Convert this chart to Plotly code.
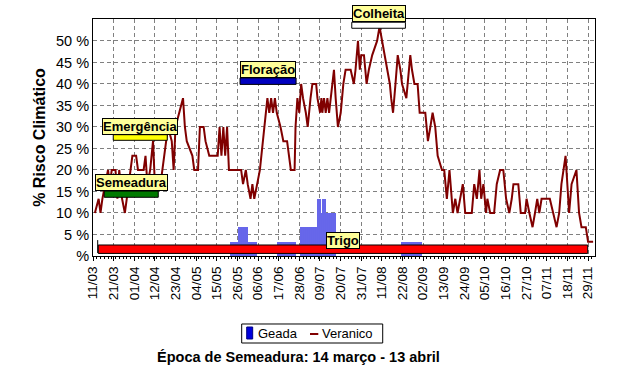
import plotly.graph_objects as go

# ---------------- data ----------------
tick_labels = ["11/03", "21/03", "01/04", "12/04", "23/04", "04/05", "15/05", "26/05",
               "06/06", "17/06", "28/06", "09/07", "20/07", "31/07", "11/08", "22/08",
               "02/09", "13/09", "24/09", "05/10", "16/10", "27/10", "07/11", "18/11", "29/11"]
tick_days = [11 * k for k in range(len(tick_labels))]

# Veranico (% risk) read at the vertices of the line, x = day index (11/03 = 0)
veranico_days = [1, 3, 4, 5, 8, 9, 10, 12, 13, 14, 15.5, 17, 18, 20, 21, 23, 24, 27, 28, 29,
                 30.5, 32, 33, 36, 38, 40, 42, 43, 44, 46, 48, 49, 50, 53, 54, 56, 57, 59, 60, 62,
                 66.5, 67.5, 68.5, 69.5, 70.5, 71.5, 72.5, 79, 80, 81.5, 82.5, 84, 85, 86, 87.5, 89,
                 93, 94, 95, 96, 97, 98, 100, 101.5, 103.5, 104.5, 105.5, 107.5, 108, 109, 110,
                 111, 112, 113.5, 114.5, 116, 117, 119, 119.7, 121.1, 121.8, 122.3, 123.2, 124.1,
                 125, 125.9, 126.7, 128.5, 129.4, 130.6, 132.1, 133.5, 134.7, 137.4, 139.1, 140,
                 141.3, 142.3, 143, 144.5, 145.9, 147.1, 148.9, 151.5, 152.8, 154.2, 155.4, 156.9,
                 158.3, 159, 160, 161.3, 162.5, 163.9, 164.8, 167.1, 168.4, 169.2, 170.1, 171.4,
                 173.1, 174.2, 177.2, 178.6, 179.9, 181.1, 182.5, 183.8, 186.1, 187.3, 188.7, 190.1,
                 191.9, 193.2, 194.4, 195.8, 197.2, 198.5, 202, 203.3, 204.7, 206.1, 207, 208.2,
                 209.6, 210.3, 211.8, 213.9, 215.3, 217.1, 218.8, 220.3, 222, 223.3, 224.2, 226.8,
                 228.1, 230.4, 231.2, 232.7, 234.4, 235.7, 236.9, 238, 239.2, 243.6, 245.4, 247.2,
                 248.6, 249.8, 252, 253, 253.9, 255.2, 257.8, 259.2, 260.5, 262.8, 264, 266.7]
veranico_vals = [10, 13.3, 10, 13.3, 20, 16.7, 20, 20, 13.3, 20, 13.3, 10, 13.3, 20, 23.3, 23.3, 20, 20, 23.3, 16.7,
                 20, 26.7, 16.7, 16.7, 23.3, 30, 26.7, 20, 30, 33.3, 36.7, 30, 26.7, 23.3, 20, 20, 30, 30, 26.7, 23.3,
                 23.3, 30, 23.3, 30, 23.3, 30, 20, 20, 16.7, 20, 16.7, 13.3, 16.7, 13.3, 16.7, 20,
                 36.7, 33.3, 36.7, 33.3, 36.7, 33.3, 30, 26.7, 26.7, 23.3, 20, 20, 30, 36.7, 33.3,
                 40, 36.7, 33.3, 30, 36.7, 40, 40, 36.7, 33.3, 36.7, 33.3, 36.7, 33.3,
                 36.7, 33.3, 36.7, 43.3, 36.7, 30, 33.3, 40, 43.3, 43.3, 40, 43.3,
                 50, 43.3, 46.7, 46.7, 40, 43.3, 46.7, 50, 53.3, 50, 46.7, 43.3,
                 40, 36.7, 33.3, 40, 46.7, 43.3, 40, 36.7, 43.3, 46.7, 43.3, 40,
                 40, 33.3, 33.3, 26.7, 30, 33.3, 30, 23.3, 20, 20, 13.3, 20,
                 10, 13.3, 10, 13.3, 16.7, 10, 10, 16.7, 13.3, 20, 13.3, 16.7,
                 10, 13.3, 10, 10, 16.7, 20, 20, 13.3, 10, 13.3, 16.7, 16.7,
                 10, 10, 13.3, 10, 6.7, 10, 13.3, 10, 13.3, 13.3, 10, 6.7,
                 10, 16.7, 23.3, 16.7, 10, 16.7, 20, 10, 6.7, 6.7, 3.3, 3.3]

# Geada (% risk) per day
geada_days = [74, 75, 76, 77, 78, 79, 80, 81, 82, 83, 84, 85, 86, 87,
              99, 100, 101, 102, 103, 104, 105, 106, 107, 108,
              111, 112, 113, 114, 115, 116, 117, 118, 119, 120, 121, 122, 123, 124,
              125, 126, 127, 128, 129,
              165, 166, 167, 168, 169, 170, 171, 172, 173, 174, 175]
geada_vals = [3.3, 3.3, 3.3, 3.3, 6.7, 6.7, 6.7, 6.7, 6.7, 3.3, 3.3, 3.3, 3.3, 3.3,
              3.3, 3.3, 3.3, 3.3, 3.3, 3.3, 3.3, 3.3, 3.3, 3.3,
              6.7, 6.7, 6.7, 6.7, 6.7, 6.7, 6.7, 6.7, 6.7, 13.3, 13.3, 10, 13.3, 13.3,
              10, 10, 10, 10, 10,
              3.3, 3.3, 3.3, 3.3, 3.3, 3.3, 3.3, 3.3, 3.3, 3.3, 3.3]

# crop phases
phase_names = ["Semeadura", "Emergência", "Floração", "Colheita", "Trigo"]
phase_start = [6.0, 10.8, 78.4, 138.0, 2.8]
phase_end = [34.8, 39.6, 108.3, 166.6, 263.8]
phase_low = [13.65, 26.9, 39.9, 52.95, 0.6]
phase_high = [15.1, 28.2, 41.4, 54.35, 2.56]
phase_colors = ["#007a00", "#ffff00", "#0000c0", "#ffffff", "#ff0000"]

y_ticks = [0, 5, 10, 15, 20, 25, 30, 35, 40, 45, 50]
y_ticktext = ["%"] + [f"{v} %" for v in y_ticks[1:]]

series_names = ["Geada", "Veranico"]
geada_color = "#0000dd"
veranico_color = "#800000"

title_text = "Época de Semeadura: 14 março - 13 abril"
FONT = "Liberation Sans, Arial, sans-serif"

# ---------------- figure ----------------
fig = go.Figure()
fig.add_trace(go.Bar(x=geada_days, y=geada_vals, name=series_names[0], width=1.0,
                     marker=dict(color=geada_color, line=dict(width=0),
                                 pattern=dict(shape="|", fgcolor=geada_color, bgcolor="white",
                                              size=2, solidity=0.6, fillmode="replace"))))
fig.add_trace(go.Scatter(x=veranico_days, y=veranico_vals, mode="lines", name=series_names[1],
                         line=dict(color=veranico_color, width=2)))

shapes = []
annotations = []
for i, name in enumerate(phase_names):
    shapes.append(dict(type="rect", xref="x", yref="y", layer="above",
                       x0=phase_start[i], x1=phase_end[i], y0=phase_low[i], y1=phase_high[i],
                       fillcolor=phase_colors[i], line=dict(color="black", width=1)))
    if name == "Trigo":
        annotations.append(dict(x=(phase_start[i] + phase_end[i]) / 2, y=phase_high[i] + 1.1,
                                xref="x", yref="y", text=f"<b>{name}</b>", showarrow=False,
                                yanchor="middle", xanchor="center",
                                bgcolor="#ffff99", bordercolor="black", borderwidth=1, borderpad=0,
                                font=dict(family=FONT, size=13, color="black")))
        shapes.append(dict(type="line", xref="x", yref="y", layer="above",
                           x0=phase_start[i] - 0.3, x1=phase_start[i] - 0.3, y0=0.7, y1=3.7,
                           line=dict(color="black", width=1)))
    else:
        annotations.append(dict(x=(phase_start[i] + phase_end[i]) / 2, y=phase_high[i],
                                xref="x", yref="y", text=f"<b>{name}</b>", showarrow=False,
                                yanchor="bottom", xanchor="center",
                                bgcolor="#ffff99", bordercolor="black", borderwidth=1, borderpad=0,
                                font=dict(family=FONT, size=13, color="black")))

# legend box (drawn in paper coordinates below the plot)
shapes += [
    dict(type="rect", xref="paper", yref="paper", x0=0.2962, x1=0.5771, y0=-0.3671, y1=-0.2869,
         fillcolor="white", line=dict(color="black", width=1)),
    dict(type="rect", xref="paper", yref="paper", x0=0.3062, x1=0.3181, y0=-0.3502, y1=-0.2996,
         fillcolor=geada_color, line=dict(color="#000080", width=1)),
    dict(type="line", xref="paper", yref="paper", x0=0.4323, x1=0.4488, y0=-0.3291, y1=-0.3291,
         line=dict(color=veranico_color, width=2)),
]
annotations += [
    dict(x=0.3247, y=-0.327, xref="paper", yref="paper", showarrow=False, text=series_names[0],
         xanchor="left", yanchor="middle", font=dict(family=FONT, size=13, color="black")),
    dict(x=0.4522, y=-0.327, xref="paper", yref="paper", showarrow=False, text=series_names[1],
         xanchor="left", yanchor="middle", font=dict(family=FONT, size=13, color="black")),
    dict(x=0.41, y=-0.426, xref="paper", yref="paper", showarrow=False,
         text=f"<b>{title_text}</b>", xanchor="center", yanchor="middle",
         font=dict(family=FONT, size=14.5, color="black")),
]

fig.update_layout(
    width=625, height=389,
    margin=dict(l=93, r=30, t=19, b=133),
    paper_bgcolor="white", plot_bgcolor="white",
    font=dict(family=FONT, color="black"),
    shapes=shapes, annotations=annotations,
    showlegend=False,
    bargap=0,
)
fig.update_xaxes(range=[0, 267.7], tickmode="array", tickvals=tick_days, ticktext=tick_labels,
                 tickangle=-90, tickfont=dict(family=FONT, size=13.5, color="black"),
                 showgrid=True, gridcolor="#808080", griddash="4px,3px", gridwidth=1,
                 showline=True, linecolor="black", linewidth=1, mirror=True,
                 ticks="outside", ticklen=4, tickcolor="black", zeroline=False,
                 minor=dict(ticks="outside", ticklen=2, tick0=0, dtick=2, tickcolor="black",
                            showgrid=False))
fig.update_yaxes(range=[0, 55.1], tickmode="array", tickvals=y_ticks, ticktext=y_ticktext,
                 tickfont=dict(family=FONT, size=14.5, color="black"),
                 showgrid=True, gridcolor="#808080", griddash="4px,3px", gridwidth=1,
                 showline=True, linecolor="black", linewidth=1, mirror=True,
                 ticks="", zeroline=False,
                 title=dict(text="<b>% Risco Climático</b>", standoff=6,
                            font=dict(family=FONT, size=16, color="black")))

fig.write_html("out.html", config={"displayModeBar": False},
               post_script="document.body.style.margin='0px';")
